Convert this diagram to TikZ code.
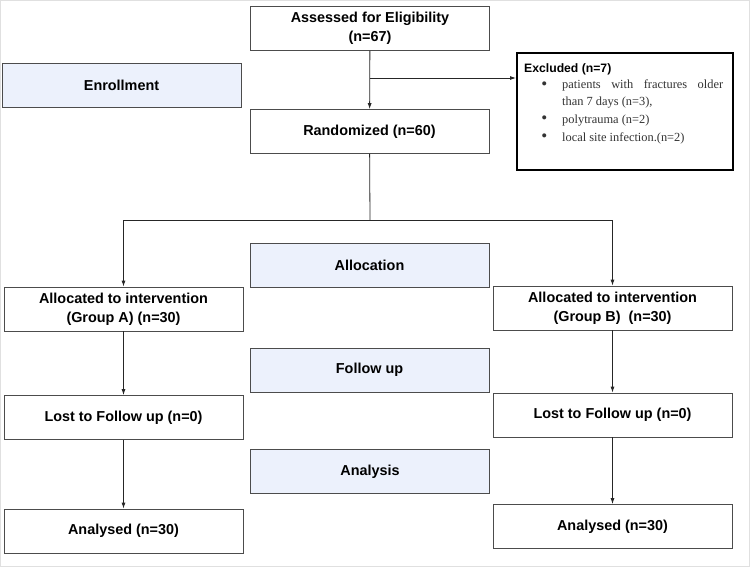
\documentclass[tikz,border=0pt]{standalone}
\usepackage{fontspec}
\setmainfont{Liberation Serif}
\setsansfont{Liberation Sans}
\usepackage{enumitem}
\usetikzlibrary{arrows.meta,positioning,calc}
\definecolor{stagefill}{RGB}{236,241,252}

\begin{document}
\begin{tikzpicture}[x=1pt, y=-1pt,
    box/.style={draw=black!70, line width=0.8pt, minimum width=239pt, minimum height=44pt, align=center, inner sep=2pt,
      font=\sffamily\bfseries\fontsize{14.4}{18.7}\selectfont, fill=white},
    stage/.style={box, fill=stagefill},
    exclbox/.style={draw=black, line width=1.6pt, minimum width=216pt, minimum height=117pt, anchor=north west, inner sep=0pt},
    arr/.style={-{Latex[length=6pt,width=4pt]}, line width=0.8pt, black!85}
]
\useasboundingbox (0,0) rectangle (750,576);
\draw[black!12] (0.5,0.5) rectangle (749,566);

\node[box] (assess) at (370,28.5) {Assessed for Eligibility\\(n=67)};
\node[stage] (enroll) at (121.5,85.5) {Enrollment};
\node[box] (rand) at (369.5,131.5) {Randomized (n=60)};
\node[exclbox] (excl) at (516,52) {};
\node[anchor=north west, text width=199pt, inner sep=0pt, align=justify, font=\fontsize{12.4}{16.5}\selectfont] (excltext) at (524,63)
  {\hyphenpenalty=10000{\sffamily\bfseries\fontsize{12.2}{14}\selectfont Excluded (n=7)}
   \begin{itemize}[leftmargin=38pt, labelsep=15pt, topsep=-1.5pt, itemsep=1.5pt, parsep=0pt, partopsep=0pt,
     label={\raisebox{-0.5pt}{\fontsize{17}{17}\selectfont\textbullet}}]
   \color{black!80}
   \item patients with fractures older\linebreak than 7 days (n=3),
   \item polytrauma (n=2)
   \item local site infection.(n=2)
   \end{itemize}};

\node[stage] (alloc) at (369.5,265) {Allocation};
\node[box] (grpA) at (123.5,309) {Allocated to intervention\\(Group A) (n=30)};
\node[box] (grpB) at (612.5,308) {Allocated to intervention\\(Group B)\ \ (n=30)};

\node[stage] (follow) at (369.5,370) {Follow up};
\node[box] (lostA) at (123.5,417.5) {Lost to Follow up (n=0)};
\node[box] (lostB) at (612.5,415) {Lost to Follow up (n=0)};

\node[stage] (analysis) at (370,471.5) {Analysis};
\node[box] (anaA) at (123.5,531) {Analysed (n=30)};
\node[box] (anaB) at (612.5,526.5) {Analysed (n=30)};

% enrollment
\coordinate (split1) at (370,78);
\coordinate (split2) at (370,220);
\draw[arr] (assess) -- (rand);
\draw[arr] (split1) -- (split1 -| excl.west);

% allocation
\draw[arr, -] (rand) -- (split2);
\draw[arr] (split2) -| (grpA);
\draw[arr] (split2) -| (grpB);

% groups
\draw[arr] (grpA) -- (lostA);
\draw[arr] (lostA) -- (anaA);
\draw[arr] (grpB) -- (lostB);
\draw[arr] (lostB) -- (anaB);
\end{tikzpicture}
\end{document}
